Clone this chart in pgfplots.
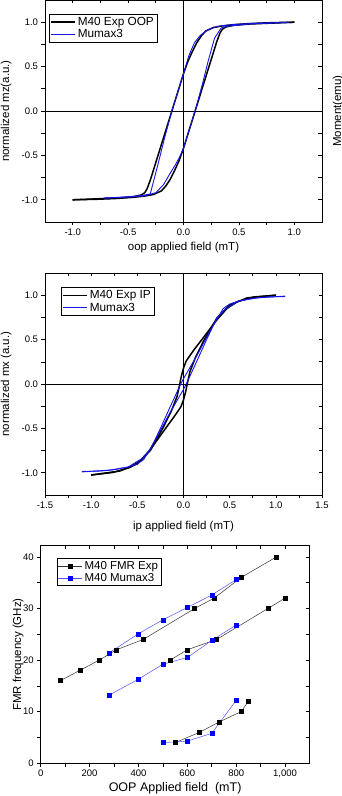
\documentclass[border=0pt]{standalone}
\usepackage{fontspec}
\setmainfont{Liberation Sans}
\usepackage{pgfplots}
\pgfplotsset{compat=1.18}
\definecolor{myblue}{RGB}{20,20,235}
\definecolor{mblue}{RGB}{0,0,255}
\definecolor{lblue}{RGB}{80,80,255}
\pgfplotsset{
  base/.style={scale only axis, axis line style={line width=0.8pt},
    tick style={black, line width=0.6pt}, major tick length=3.5pt, minor tick length=3.5pt,
    ticklabel style={font=\fontsize{9.5}{11}\selectfont},
    /pgf/number format/assume math mode=true,
    label style={font=\fontsize{11.5}{13}\selectfont}},
  main/.style={base, tick align=outside, xtick pos=lower, ytick pos=left},
  over/.style={base, tick align=inside, xtick pos=upper, ytick pos=right,
    xticklabels={}, yticklabels={}},
  hyst/.style={xmin=-1.25, xmax=1.25, ymin=-1.25, ymax=1.25,
    xtick={-1,-0.5,...,1}, ytick={-1,-0.5,...,1}, minor tick num=1,
    /pgf/number format/fixed, /pgf/number format/fixed zerofill, /pgf/number format/precision=1},
}
\begin{document}
\begin{tikzpicture}
\useasboundingbox (0,0) rectangle (342pt,796pt);
% ---------------- Panel 1 ----------------
\begin{axis}[main, hyst, clip=false, at={(45pt,574pt)}, anchor=south west, width=277pt, height=222pt,
  xlabel={oop applied field (mT)}, ylabel={normalized mz(a.u.)},
  xlabel style={at={(axis description cs:0.5,-0.117)}, anchor=center},
  ylabel style={at={(axis description cs:-0.14,0.5)}, anchor=center},
  legend style={draw=black, line width=0.5pt, font=\fontsize{11.8}{13}\selectfont,
    inner sep=1pt, row sep=-1.5pt, at={(0.0145,0.937)}, anchor=north west}, legend cell align=left,
  legend image code/.code={\draw[#1] (0pt,0pt) -- (24pt,0pt);}]
\addlegendimage{color=black, line width=1.5pt}
\addlegendentry{M40 Exp OOP}
\addlegendimage{color=myblue, line width=1.1pt}
\addlegendentry{Mumax3}
\addplot[black, line width=0.7pt, forget plot] coordinates {(-1.25,0) (1.25,0)};
\addplot[black, line width=0.7pt, forget plot] coordinates {(0,-1.25) (0,1.25)};
\addplot[color=black, line width=1.5pt, forget plot] coordinates {
(1.0,1.0) (0.8,0.995) (0.6,0.985) (0.45,0.972) (0.35,0.958) (0.27,0.94) (0.2,0.9) (0.16,0.845)
(0.12,0.77) (0.08,0.67) (0.04,0.56) (0.0,0.42) (-0.05,0.22) (-0.105,0.0) (-0.18,-0.3) (-0.25,-0.58)
(-0.3,-0.78) (-0.33,-0.88) (-0.35,-0.92) (-0.38,-0.945) (-0.45,-0.965) (-0.6,-0.98) (-0.8,-0.99) (-1.0,-1.0)};
\addplot[black, line width=1.5pt, forget plot] coordinates {
(-1.0,-1.0) (-0.8,-0.995) (-0.6,-0.985) (-0.45,-0.972) (-0.35,-0.958) (-0.27,-0.94) (-0.2,-0.9) (-0.16,-0.845)
(-0.12,-0.77) (-0.08,-0.67) (-0.04,-0.56) (0.0,-0.42) (0.05,-0.22) (0.105,0.0) (0.18,0.3) (0.25,0.58)
(0.3,0.78) (0.33,0.88) (0.35,0.92) (0.38,0.945) (0.45,0.965) (0.6,0.98) (0.8,0.99) (1.0,1.0)};
\addplot[color=myblue, line width=0.9pt, forget plot] coordinates {
(0.95,0.998) (0.7,0.99) (0.5,0.978) (0.4,0.968) (0.3,0.952) (0.22,0.915) (0.15,0.85) (0.1,0.77)
(0.05,0.63) (0.0,0.42) (-0.105,0.0) (-0.17,-0.3) (-0.22,-0.55) (-0.30,-0.935) (-0.4,-0.955)
(-0.55,-0.97) (-0.72,-0.98)};
\addplot[color=myblue, line width=0.9pt, forget plot] coordinates {
(-0.72,-0.98) (-0.5,-0.97) (-0.35,-0.955) (-0.25,-0.92) (-0.18,-0.83) (-0.12,-0.7) (-0.08,-0.62)
(-0.04,-0.53) (0.0,-0.42) (0.105,0.0) (0.17,0.3) (0.22,0.55) (0.28,0.82) (0.34,0.935) (0.4,0.955)
(0.6,0.98) (0.95,0.998)};
\node[rotate=90, anchor=center, font=\fontsize{11.5}{13}\selectfont] at (axis description cs:1.058,0.5) {Moment(emu)};
\end{axis}
\begin{axis}[over, hyst, at={(45pt,574pt)}, anchor=south west, width=277pt, height=222pt]
\end{axis}
% ---------------- Panel 2 ----------------
\begin{axis}[main, hyst, clip=false, xmin=-1.5, xmax=1.5, xtick={-1.5,-1,...,1.5},
  at={(45pt,301pt)}, anchor=south west, width=277pt, height=222pt,
  xlabel={ip applied field (mT)}, ylabel={normalized mx (a.u.)},
  xlabel style={at={(axis description cs:0.5,-0.14)}, anchor=center},
  ylabel style={at={(axis description cs:-0.14,0.5)}, anchor=center},
  legend style={draw=black, line width=0.5pt, font=\fontsize{11.8}{13}\selectfont,
    inner sep=1pt, row sep=-1.5pt, at={(0.058,0.935)}, anchor=north west}, legend cell align=left,
  legend image code/.code={\draw[#1] (0pt,0pt) -- (24pt,0pt);}]
\addlegendimage{color=black, line width=1.5pt}
\addlegendentry{M40 Exp IP}
\addlegendimage{color=myblue, line width=1.1pt}
\addlegendentry{Mumax3}
\addplot[black, line width=0.7pt, forget plot] coordinates {(-1.5,0) (1.5,0)};
\addplot[black, line width=0.7pt, forget plot] coordinates {(0,-1.25) (0,1.25)};
\addplot[color=black, line width=1.5pt, forget plot] coordinates {
(1.0,1.0) (0.76,0.98) (0.58,0.925) (0.47,0.85) (0.36,0.72) (0.25,0.57) (0.11,0.38) (0.03,0.26)
(0.0,0.18) (-0.025,0.08) (-0.04,0.0) (-0.07,-0.14) (-0.13,-0.3) (-0.22,-0.49) (-0.36,-0.75)
(-0.5,-0.9) (-0.69,-0.98) (-1.0,-1.025)};
\addplot[black, line width=1.5pt, forget plot] coordinates {
(-1.0,-1.025) (-0.76,-0.995) (-0.58,-0.94) (-0.47,-0.865) (-0.36,-0.74) (-0.25,-0.58) (-0.11,-0.38)
(-0.03,-0.26) (0.0,-0.18) (0.025,-0.08) (0.04,0.0) (0.07,0.14) (0.13,0.3) (0.22,0.49) (0.36,0.74)
(0.5,0.89) (0.69,0.97) (1.0,1.0)};
\addplot[color=myblue, line width=0.9pt, forget plot] coordinates {
(1.1,0.985) (0.9,0.98) (0.75,0.965) (0.6,0.935) (0.5,0.9) (0.43,0.85) (0.3,0.62) (0.15,0.33)
(0.0,0.06) (-0.03,0.0) (-0.15,-0.27) (-0.25,-0.5) (-0.36,-0.74) (-0.45,-0.84) (-0.6,-0.935)
(-0.8,-0.97) (-1.1,-0.99)};
\addplot[color=myblue, line width=0.9pt, forget plot] coordinates {
(-1.1,-0.985) (-0.9,-0.98) (-0.75,-0.965) (-0.6,-0.935) (-0.5,-0.9) (-0.43,-0.85) (-0.3,-0.62)
(-0.15,-0.33) (0.0,-0.06) (0.03,0.0) (0.15,0.27) (0.25,0.5) (0.36,0.74) (0.45,0.84) (0.6,0.935)
(0.8,0.97) (1.1,0.99)};
\end{axis}
\begin{axis}[over, hyst, xmin=-1.5, xmax=1.5, xtick={-1.5,-1,...,1.5},
  at={(45pt,301pt)}, anchor=south west, width=277pt, height=222pt]
\end{axis}
% ---------------- Panel 3 ----------------
\begin{axis}[main, at={(40.7pt,32.7pt)}, anchor=south west, width=268.8pt, height=217.8pt,
  xmin=0, xmax=1100, ymin=0, ymax=42.2, xtick={0,200,...,1000}, ytick={0,10,...,40},
  minor tick num=1,
  legend style={draw=black, line width=0.5pt, font=\fontsize{11.5}{13}\selectfont,
    inner sep=1pt, row sep=-1.5pt, at={(0.06,0.943)}, anchor=north west}, legend cell align=left,
  legend image code/.code={\draw[mark repeat=2, mark phase=2, #1] plot coordinates {(0pt,0pt) (12pt,0pt) (24pt,0pt)};},
  xlabel={OOP Applied field\ \ (mT)}, ylabel={FMR frequency (GHz)},
  xlabel style={at={(axis description cs:0.5,-0.113)}, anchor=center, font=\fontsize{12.5}{14}\selectfont},
  ylabel style={at={(axis description cs:-0.084,0.5)}, anchor=center}]
\addplot[black!80, line width=0.5pt, mark=square*, mark size=2pt, mark options={black, solid}] coordinates {
(80,16) (160,18) (240,20) (310,22) (420,24) (630,30) (710,32) (820,36) (965,40)};
\addlegendentry{M40 FMR Exp}
\addplot[lblue, line width=0.5pt, mark=square*, mark size=2pt, mark options={mblue, solid}] coordinates {
(280,21.4) (400,25.1) (500,27.8) (600,30.2) (700,32.6) (800,35.6)};
\addlegendentry{M40 Mumax3}
\addplot[black!80, line width=0.5pt, mark=square*, mark size=2pt, mark options={black, solid}, forget plot] coordinates {
(530,20) (600,22) (720,24) (930,30) (1000,32)};
\addplot[black!80, line width=0.5pt, mark=square*, mark size=2pt, mark options={black, solid}, forget plot] coordinates {
(550,4) (650,6) (730,8) (820,10) (850,12)};
\addplot[lblue, line width=0.5pt, mark=square*, mark size=2pt, mark options={mblue, solid}, forget plot] coordinates {
(280,13.2) (400,16.3) (500,19.2) (600,20.5) (700,23.8) (800,26.8)};
\addplot[lblue, line width=0.5pt, mark=square*, mark size=2pt, mark options={mblue, solid}, forget plot] coordinates {
(500,4.0) (600,4.3) (700,5.8) (800,12.2)};
\end{axis}
\begin{axis}[over, at={(40.7pt,32.7pt)}, anchor=south west, width=268.8pt, height=217.8pt,
  xmin=0, xmax=1100, ymin=0, ymax=42.2, xtick={0,200,...,1000}, ytick={0,10,...,40}, minor tick num=1]
\end{axis}
\end{tikzpicture}
\end{document}
